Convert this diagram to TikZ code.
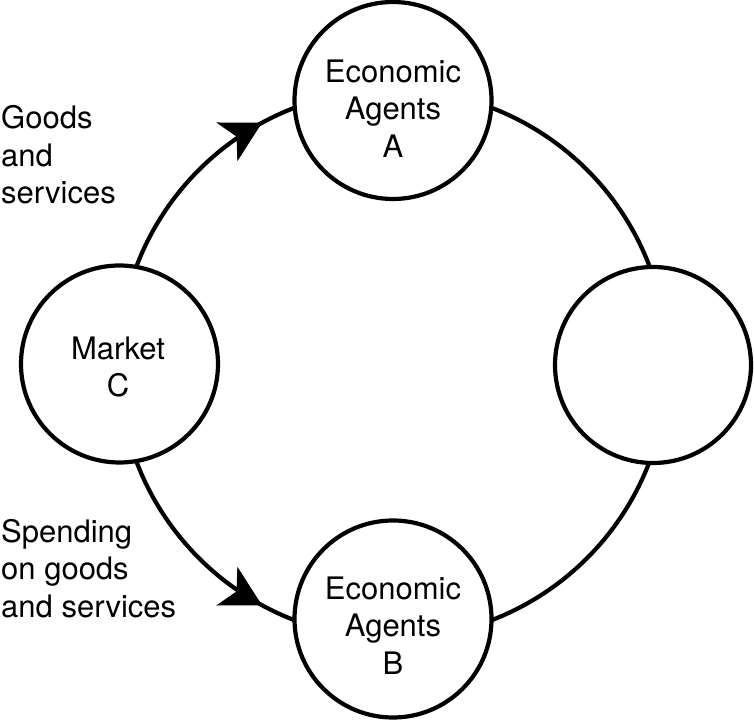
\documentclass[tikz,border=0pt]{standalone}
\usepackage{fontspec}
\setmainfont{TeX Gyre Heros}
\usetikzlibrary{arrows.meta,decorations.markings}
\begin{document}
\begin{tikzpicture}[x=1pt,y=1pt,
  agent/.style={circle,draw=black,fill=white,line width=4.2pt,minimum size=197pt,inner sep=0pt},
  txt/.style={align=center,inner sep=0pt,font=\fontsize{31}{37.5}\selectfont},
  side/.style={align=left,inner sep=0pt,anchor=north west,font=\fontsize{31}{37.5}\selectfont},
  ring/.style={line width=4.2pt},
  flowtip/.style={ring,postaction={decorate},decoration={markings,
     mark=at position 0.775 with {\arrow{Stealth[length=40pt,width=44pt,inset=11pt,line width=1pt]}}}}
]
\useasboundingbox (0,0) rectangle (754,722);
\coordinate (O) at (393,358);
% connectors (arcs of the big ring)
\draw[flowtip] (O) ++(165:274.5) arc[start angle=165,end angle=105,radius=274.5];
\draw[flowtip] (O) ++(-165:274.5) arc[start angle=-165,end angle=-105,radius=274.5];
\draw[ring] (O) ++(75:274.5) arc[start angle=75,end angle=15,radius=274.5];
\draw[ring] (O) ++(-15:274.5) arc[start angle=-15,end angle=-75,radius=274.5];
% circles
\node[agent] (A) at (393,621.5) {};
\node[agent] (B) at (393,103) {};
\node[agent] (C) at (119.5,358) {};
\node[agent,minimum size=196pt] (D) at (653,357) {};
% texts
\node[txt] (At) at (393,613.5) {Economic\\Agents\\A};
\node[txt] (Bt) at (393,96.5) {Economic\\Agents\\B};
\node[txt] (Ct) at (118,355) {Market\\C};
\node[side] (goods) at (1,616.5) {Goods\\and\\services};
\node[side] (spend) at (1,203) {Spending\\on goods\\and services};
\end{tikzpicture}
\end{document}
